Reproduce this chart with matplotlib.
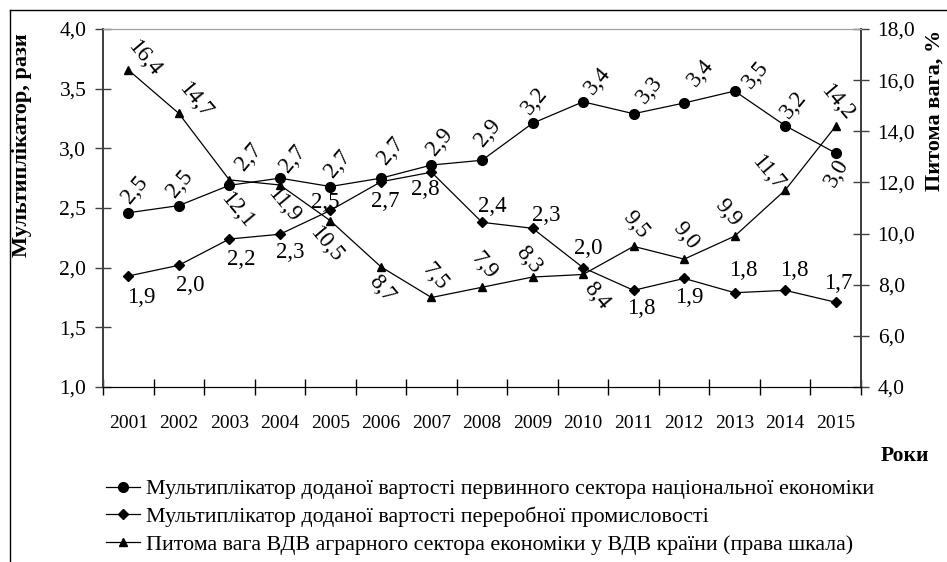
import numpy as np
import matplotlib
matplotlib.use("Agg")
import matplotlib.pyplot as plt
from matplotlib.lines import Line2D

plt.rcParams['font.family'] = ['Liberation Serif', 'DejaVu Serif']

# data
years = ['2001', '2002', '2003', '2004', '2005', '2006', '2007', '2008',
         '2009', '2010', '2011', '2012', '2013', '2014', '2015']
primary = [2.46, 2.52, 2.69, 2.75, 2.68, 2.75, 2.86, 2.90, 3.21, 3.39, 3.29, 3.38, 3.48, 3.19, 2.96]
primary_lbl = ['2,5', '2,5', '2,7', '2,7', '2,7', '2,7', '2,9', '2,9', '3,2', '3,4', '3,3', '3,4', '3,5', '3,2', '3,0']
processing = [1.93, 2.02, 2.24, 2.28, 2.48, 2.72, 2.80, 2.38, 2.33, 2.00, 1.81, 1.91, 1.79, 1.81, 1.71]
processing_lbl = ['1,9', '2,0', '2,2', '2,3', '2,5', '2,7', '2,8', '2,4', '2,3', '2,0', '1,8', '1,9', '1,8', '1,8', '1,7']
share = [16.4, 14.7, 12.1, 11.9, 10.5, 8.7, 7.5, 7.9, 8.3, 8.4, 9.5, 9.0, 9.9, 11.7, 14.2]
share_lbl = ['16,4', '14,7', '12,1', '11,9', '10,5', '8,7', '7,5', '7,9', '8,3', '8,4', '9,5', '9,0', '9,9', '11,7', '14,2']

legend_names = ['Мультиплікатор доданої вартості первинного сектора національної економіки',
                'Мультиплікатор доданої вартості переробної промисловості',
                'Питома вага ВДВ аграрного сектора економіки у ВДВ країни (права шкала)']

# label offsets in pixels (dx, dy)
off_primary = [(7, 23), (1, 22), (20, 28), (13, 19), (7, 23), (10, 27), (8, 23), (6, 27),
               (2, 22), (15, 21), (16, 24), (17, 30), (21, 16), (9, 21), (1, -20)]
off_processing = [(13, -21), (11, -20), (12, -20), (10, -18), (-5, 8), (4, -20), (-6, -17), (10, 16),
                  (14, 13), (5, 19), (8, -18), (5, -19), (9, 22), (9, 20), (3, 19)]
off_share = [(16, 12), (16, 13), (8, -30), (4, -20), (-4, -23), (1, -22), (3, 21), (2, 21),
             (-4, 17), (14, -21), (2, 21), (2, 23), (-7, 23), (-17, 17), (1, 24)]

x = np.arange(len(years))

fig = plt.figure(figsize=(9.47, 5.62), dpi=100)
ax = fig.add_axes([103/947, 1 - 387/562, 758/947, 358/562])
ax2 = ax.twinx()

l1, = ax.plot(x, primary, color='black', lw=0.9, marker='o', ms=7)
l2, = ax.plot(x, processing, color='black', lw=0.9, marker='D', ms=5.5)
l3, = ax2.plot(x, share, color='black', lw=0.9, marker='^', ms=6)

ax.set_xlim(-0.5, 14.5)
ax.set_ylim(1.0, 4.0)
ax2.set_ylim(4.0, 18.0)

ax.set_yticks(np.arange(1.0, 4.01, 0.5))
ax.set_yticklabels([f'{v:.1f}'.replace('.', ',') for v in np.arange(1.0, 4.01, 0.5)])
ax2.set_yticks(np.arange(4.0, 18.01, 2.0))
ax2.set_yticklabels([f'{v:.1f}'.replace('.', ',') for v in np.arange(4.0, 18.01, 2.0)])

# ticks on category borders, labels on centres
ax.set_xticks(np.arange(-0.5, 15, 1.0))
ax.set_xticklabels([])
ax.set_xticks(x, minor=True)
ax.set_xticklabels(years, minor=True, fontsize=14)
ax.tick_params(axis='x', which='major', direction='inout', length=12, width=1)
ax.tick_params(axis='x', which='minor', length=0, pad=20)
ax.tick_params(axis='y', direction='inout', length=12, width=1, labelsize=15.5, pad=6, color='#404040')
ax2.tick_params(axis='y', direction='inout', length=12, width=1, labelsize=15.5, pad=6, color='#404040')

for a in (ax, ax2):
    a.spines['top'].set_color('#a0a0a0')
    a.spines['left'].set_color('#404040')
    a.spines['right'].set_color('#404040')
    a.spines['bottom'].set_color('black')
    a.spines['left'].set_linewidth(1.3)
    a.spines['right'].set_linewidth(1.3)

# data labels
for i in range(len(x)):
    ax.annotate(primary_lbl[i], (x[i], primary[i]), xytext=off_primary[i], textcoords='offset pixels',
                ha='center', va='center', rotation=50 if i < 14 else 60, fontsize=16.5)
    ax.annotate(processing_lbl[i], (x[i], processing[i]), xytext=off_processing[i], textcoords='offset pixels',
                ha='center', va='center', fontsize=16.5)
    ax2.annotate(share_lbl[i], (x[i], share[i]), xytext=off_share[i], textcoords='offset pixels',
                 ha='center', va='center', rotation=-50, fontsize=16.5)

fig.text(22/947, 1 - 145/562, 'Мультиплікатор, рази', rotation=90, ha='center', va='center',
         fontsize=16, fontweight='bold')
fig.text(935/947, 1 - 110/562, 'Питома вага, %', rotation=90, ha='center', va='center',
         fontsize=16, fontweight='bold')
fig.text(905/947, 1 - 456/562, 'Роки', ha='center', va='center', fontsize=15.5, fontweight='bold')

# legend
fig.legend([l1, l2, l3], legend_names, loc='upper left', bbox_to_anchor=(106/947, 1 - 479/562),
           frameon=False, fontsize=15.8, handlelength=1.55, handletextpad=0.25, labelspacing=0.33,
           borderaxespad=0, borderpad=0)

# outer frame (only left and top edges visible)
fig.add_artist(Line2D([9.5/947, 9.5/947], [0, 1 - 9.5/562], transform=fig.transFigure, color='black', lw=1))
fig.add_artist(Line2D([9.5/947, 1], [1 - 9.5/562, 1 - 9.5/562], transform=fig.transFigure, color='black', lw=1))

fig.savefig('out.png', dpi=100)
